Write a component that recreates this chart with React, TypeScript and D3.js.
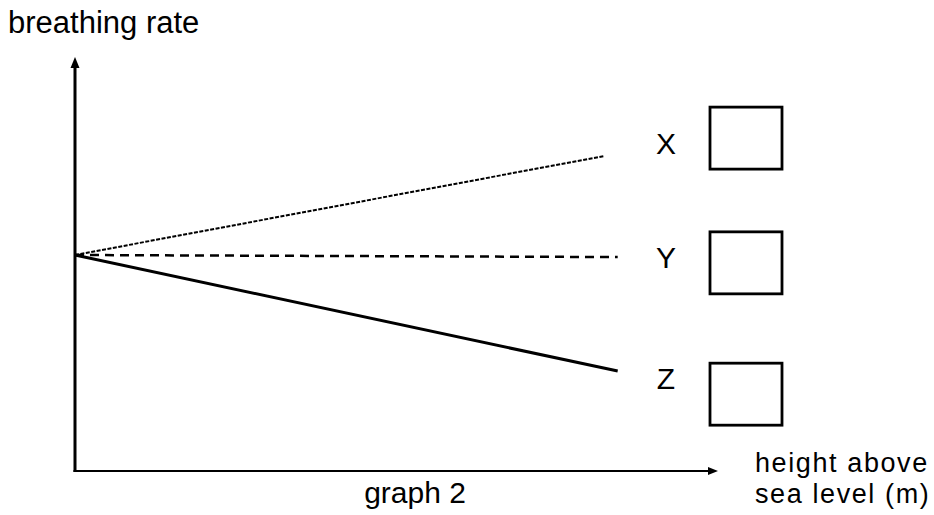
import React from 'react';
import * as d3 from 'd3';

// qualitative sketch: three possible trends of breathing rate vs height
const seriesNames = ['X', 'Y', 'Z'];
const startHeight = [0, 0, 0];
const endHeight = [82.4, 84.4, 84.4];
const startRate = [52.3, 52.3, 52.3];
const endRate = [76.3, 51.8, 24.2];
const lineStyles = ['4 1.5', '9 6', null];
const lineWidths = [2, 2.5, 3];

// answer boxes next to each option label (vertical centre in rate units)
const labelRate = [79.2, 51.8, 22.5];
const boxRate = [80.6, 50.4, 18.6];

export default function App() {
  const width = 934;
  const height = 515;
  const originX = 75;
  const originY = 471;
  const axisEndX = 718;
  const axisTopY = 58;

  const x = d3.scaleLinear().domain([0, 100]).range([originX, axisEndX]);
  const y = d3.scaleLinear().domain([0, 100]).range([originY, axisTopY]);

  const line = d3.line<[number, number]>()
    .x(d => x(d[0]))
    .y(d => y(d[1]));

  const font = '"Liberation Sans", Arial, sans-serif';
  const boxW = 72;
  const boxH = 62;

  return (
    <svg width={width} height={height}
      style={{ position: 'absolute', left: 0, top: 0, background: '#fff' }}
      fontFamily={font}>
      <text x={8} y={33} fontSize={31} fill="#000">breathing rate</text>

      {/* axes */}
      <line x1={x(0)} y1={y(0) + 1} x2={x(0)} y2={axisTopY + 8} stroke="#000" strokeWidth={3} />
      <path d={`M${x(0)},${axisTopY - 1} L${x(0) - 4.5},${axisTopY + 10} L${x(0) + 4.5},${axisTopY + 10} Z`} fill="#000" />
      <line x1={x(0) - 1.5} y1={y(0)} x2={axisEndX - 8} y2={y(0)} stroke="#000" strokeWidth={2} />
      <path d={`M${axisEndX},${y(0)} L${axisEndX - 10},${y(0) - 4} L${axisEndX - 10},${y(0) + 4} Z`} fill="#000" />

      {seriesNames.map((s, i) => (
        <path key={s}
          d={line([[startHeight[i], startRate[i]], [endHeight[i], endRate[i]]]) || ''}
          fill="none" stroke="#000" strokeWidth={lineWidths[i]}
          strokeDasharray={lineStyles[i] || undefined} />
      ))}

      {seriesNames.map((s, i) => (
        <g key={'lab' + s}>
          <text x={666} y={y(labelRate[i])} fontSize={30} textAnchor="middle"
            dominantBaseline="central" fill="#000">{s}</text>
          <rect x={710} y={y(boxRate[i]) - boxH / 2} width={boxW} height={boxH}
            fill="none" stroke="#000" strokeWidth={2.8} />
        </g>
      ))}

      <text x={415} y={503} fontSize={30} textAnchor="middle" fill="#000">graph 2</text>
      <text x={755} y={472} fontSize={27} letterSpacing={1.6} fill="#000">height above</text>
      <text x={755} y={503} fontSize={27} letterSpacing={1.6} fill="#000">sea level (m)</text>
    </svg>
  );
}
